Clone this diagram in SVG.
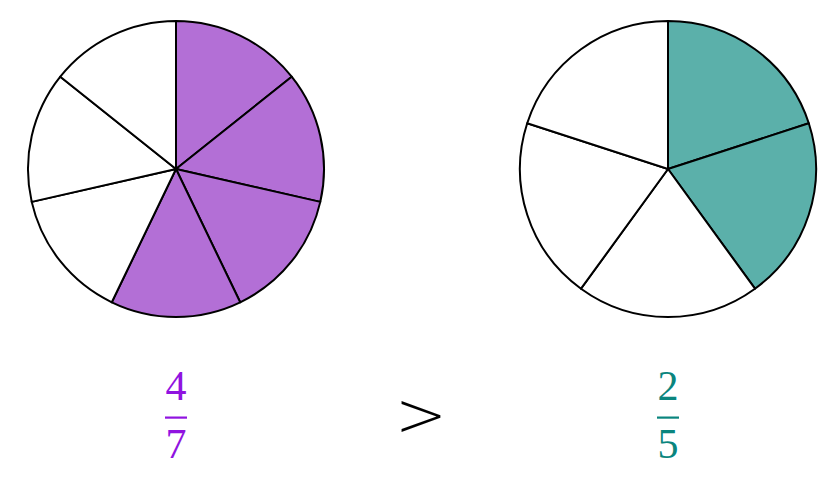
<svg xmlns="http://www.w3.org/2000/svg" width="840" height="489" viewBox="0 0 840 489">
<style>
.s{stroke:#000;stroke-width:2;stroke-linejoin:round}
.p{fill:#b36fd6}
.t{fill:#5bb0aa}
.w{fill:#fff}
.num{font-family:"Liberation Serif","DejaVu Serif",serif;font-size:42px;text-anchor:middle}
.rel{font-family:"DejaVu Sans","Liberation Sans",sans-serif;font-size:62px;text-anchor:middle;font-weight:300}
</style>
<rect width="840" height="489" fill="#fff"/>
<g id="pie-left">
<path class="s p" d="M176,169 L176,21 A148,148 0 0 1 291.7,76.7 Z"/>
<path class="s p" d="M176,169 L291.7,76.7 A148,148 0 0 1 320.3,201.9 Z"/>
<path class="s p" d="M176,169 L320.3,201.9 A148,148 0 0 1 240.2,302.3 Z"/>
<path class="s p" d="M176,169 L240.2,302.3 A148,148 0 0 1 111.8,302.3 Z"/>
<path class="s w" d="M176,169 L111.8,302.3 A148,148 0 0 1 31.7,201.9 Z"/>
<path class="s w" d="M176,169 L31.7,201.9 A148,148 0 0 1 60.3,76.7 Z"/>
<path class="s w" d="M176,169 L60.3,76.7 A148,148 0 0 1 176,21 Z"/>
</g>
<g id="pie-right">
<path class="s t" d="M668,169 L668,21 A148,148 0 0 1 808.8,123.3 Z"/>
<path class="s t" d="M668,169 L808.8,123.3 A148,148 0 0 1 755,288.7 Z"/>
<path class="s w" d="M668,169 L755,288.7 A148,148 0 0 1 581,288.7 Z"/>
<path class="s w" d="M668,169 L581,288.7 A148,148 0 0 1 527.2,123.3 Z"/>
<path class="s w" d="M668,169 L527.2,123.3 A148,148 0 0 1 668,21 Z"/>
</g>
<g id="frac-left" fill="#9013e0">
<text class="num" x="176" y="400">4</text>
<rect x="165" y="416.5" width="22" height="2.2"/>
<text class="num" x="176" y="458">7</text>
</g>
<g id="relation">
<text class="rel" x="421" y="436">&gt;</text>
</g>
<g id="frac-right" fill="#0a857e">
<text class="num" x="668" y="400">2</text>
<rect x="657" y="416.5" width="22" height="2.2"/>
<text class="num" x="668" y="458">5</text>
</g>
</svg>
